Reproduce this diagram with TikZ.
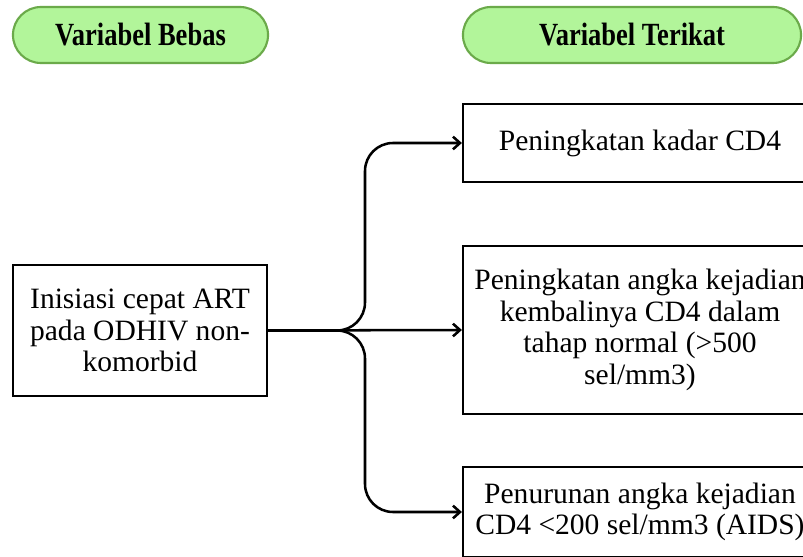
\documentclass[tikz,border=0pt]{standalone}
\usepackage{fontspec}
\setmainfont{Liberation Serif}
\newfontfamily\headfont[FakeStretch=0.82]{Liberation Serif}
\usetikzlibrary{arrows.meta}

\definecolor{pillfill}{HTML}{B2F59A}
\definecolor{pillline}{HTML}{6BAA4A}

\tikzset{
    pill/.style={draw=pillline, fill=pillfill, line width=1.5pt, rounded corners=0.7cm,
        minimum height=1.4cm, font=\headfont\fontsize{23}{24}\selectfont\bfseries},
    varbox/.style={draw, line width=1.5pt, align=center, inner sep=0pt,
        font=\fontsize{21}{22.5}\selectfont},
    link/.style={line width=1.8pt, rounded corners=0.7cm,
        -{Straight Barb[length=5pt,width=9pt]}}
}

\begin{document}
\begin{tikzpicture}[x=0.025cm, y=-0.025cm]
        \clip (0,0) rectangle (803,557);

        % Headers
        \node (bebas) at (140.5, 35) [pill, minimum width=6.375cm] {Variabel Bebas};
        \node (terikat) at (632, 35) [pill, minimum width=8.45cm] {Variabel Terikat};

        % Independent variable
        \node (art) at (140, 330.5) [varbox, minimum width=6.35cm, minimum height=3.275cm]
            {Inisiasi cepat ART\\pada ODHIV non-\\komorbid};

        % Dependent variables
        \node (naik) at (640, 143) [varbox, minimum width=8.85cm, minimum height=1.95cm]
            {Peningkatan kadar CD4};
        \node (normal) at (640, 330) [varbox, minimum width=8.85cm, minimum height=4.2cm]
            {Peningkatan angka kejadian\\kembalinya CD4 dalam\\tahap normal (>500\\sel/mm3)};
        \node (aids) at (640, 512) [varbox, minimum width=8.85cm, minimum height=2.25cm]
            {Penurunan angka kejadian\\CD4 <200 sel/mm3 (AIDS)};

        % Branching arrows
        \coordinate (split) at (365, 330.5);
        \draw[link] (art.east) -- (normal.west);
        \draw[link] (art.east) -- (split) |- (naik.west);
        \draw[link] (art.east) -- (split) |- (aids.west);

    \end{tikzpicture}
\end{document}
